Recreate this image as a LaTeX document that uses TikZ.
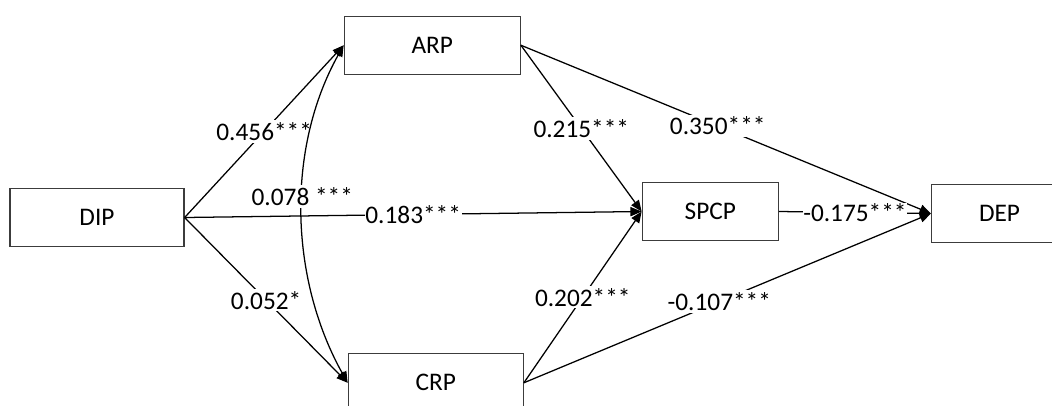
\documentclass[tikz,border=0pt]{standalone}
\usepackage{fontspec}
\setmainfont{Carlito}
\usepackage{tikz}
\usetikzlibrary{arrows.meta, positioning}
\definecolor{boxline}{RGB}{60,60,60}

\begin{document}
\begin{tikzpicture}[
  var/.style={rectangle, draw=boxline, fill=white, line width=0.9pt, minimum height=1.45cm, align=center, font=\fontsize{18}{20}\selectfont},
  lbl/.style={fill=white, inner sep=1.5pt, font=\fontsize{18}{20}\selectfont},
  arr/.style={-{Triangle[length=2.8mm, width=2.3mm]}, line width=0.9pt}
]
\clip (0,0) rectangle (26.3,-10.125);
\node[var, minimum width=4.35cm] (dip) at (2.425,-5.4375) {DIP};
\node[var, minimum width=4.4cm, above right=2.825cm and 3.975cm of dip] (arp) {ARP};
\node[var, minimum width=4.375cm, below right=2.65cm and 4.075cm of dip] (crp) {CRP};
\node[var, minimum width=3.4cm, right=11.425cm of dip, yshift=0.15cm] (spcp) {SPCP};
\node[var, minimum width=3.4cm, right=3.8cm of spcp, yshift=-0.05cm] (dep) {DEP};
% paths from DIP
\draw[arr] (dip.east) -- node[lbl] {0.456***} (arp.west);
\draw[arr] (dip.east) -- node[lbl] {0.052*} (crp.west);
\draw[arr] (dip.east) -- node[lbl, inner sep=0.5pt] {0.183***} (spcp.west);
% covariance
\draw[{Triangle[length=2.8mm, width=2.3mm]}-{Triangle[length=2.8mm, width=2.3mm]}, line width=0.9pt]
  (arp.west) .. controls +(-1.45,-2.6) and +(-1.45,2.6) .. node[lbl, pos=0.45] {0.078 ***} (crp.west);
% mediators
\draw[arr] (arp.east) -- node[lbl] {0.215***} (spcp.west);
\draw[arr] (arp.east) -- node[lbl, pos=0.48] {0.350***} (dep.west);
\draw[arr] (crp.east) -- node[lbl] {0.202***} (spcp.west);
\draw[arr] (crp.east) -- node[lbl, pos=0.48] {-0.107***} (dep.west);
\draw[arr] (spcp.east) -- node[lbl, inner sep=0.5pt] {-0.175***} (dep.west);
\end{tikzpicture}
\end{document}
